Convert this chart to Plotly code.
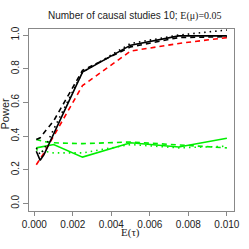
import plotly.graph_objects as go

x_vals = [0.0001, 0.0003, 0.0005, 0.001, 0.0025, 0.005, 0.0075, 0.01]

black_solid = [0.31, 0.256, 0.29, 0.41, 0.78, 0.94, 0.995, 0.995]
black_dashed = [0.38, 0.39, 0.42, 0.49, 0.79, 0.93, 0.985, 0.99]
black_dotted = [0.33, 0.29, 0.32, 0.44, 0.78, 0.95, 1.0, 1.03]
red_dashed = [0.23, 0.265, 0.30, 0.40, 0.70, 0.905, 0.95, 0.985]
green_solid = [0.33, 0.335, 0.34, 0.35, 0.275, 0.36, 0.335, 0.387]
green_dashed = [0.38, 0.375, 0.367, 0.36, 0.355, 0.365, 0.347, 0.33]
green_dotted = [0.32, 0.31, 0.31, 0.30, 0.30, 0.35, 0.33, 0.34]

x_ticks = [0.0, 0.002, 0.004, 0.006, 0.008, 0.010]
x_tick_labels = ["0.000", "0.002", "0.004", "0.006", "0.008", "0.010"]
y_ticks = [0.0, 0.2, 0.4, 0.6, 0.8, 1.0]
y_tick_labels = ["0.0", "0.2", "0.4", "0.6", "0.8", "1.0"]

DASH = "5px,4px"
DOT = "1.5px,4px"

series = [
    (green_dotted, "#00ee00", DOT),
    (green_dashed, "#00ee00", DASH),
    (green_solid, "#00ee00", "solid"),
    (red_dashed, "#ff0000", DASH),
    (black_dotted, "#000000", DOT),
    (black_dashed, "#000000", DASH),
    (black_solid, "#000000", "solid"),
]

fig = go.Figure()
for ys, col, dash in series:
    fig.add_trace(go.Scatter(x=x_vals, y=ys, mode="lines",
                             line=dict(color=col, width=1.6, dash=dash),
                             showlegend=False, hoverinfo="skip"))

SANS = "Liberation Sans, Arial, sans-serif"
SERIF = "Liberation Serif, Times New Roman, serif"

fig.update_layout(
    width=249, height=249,
    margin=dict(l=29, r=15, t=29, b=38, autoexpand=False),
    paper_bgcolor="white", plot_bgcolor="white",
    font=dict(family=SANS, size=10, color="#222"),
    hovermode=False,
    xaxis=dict(
        range=[-0.00028, 0.01037], tickvals=x_ticks, ticktext=x_tick_labels,
        showgrid=False, zeroline=False, showline=True, mirror=True,
        linecolor="#888", linewidth=1, ticks="outside", ticklen=4,
        tickcolor="#888", tickfont=dict(size=10), automargin=False,
        ticklabeloverflow="allow",
    ),
    yaxis=dict(
        range=[-0.045, 1.036], tickvals=y_ticks, ticktext=y_tick_labels,
        showgrid=False, zeroline=False, showline=True, mirror=True,
        linecolor="#888", linewidth=1, ticks="outside", ticklen=5,
        tickcolor="#888", tickfont=dict(size=10), tickangle=-90,
        automargin=False, ticklabeloverflow="allow",
    ),
    annotations=[
        dict(text='Number of causal studies 10; <span style="font-family:Liberation Serif, serif">E(μ)=0.05</span>',
             xref="paper", yref="paper", x=0.517, y=1.071, xanchor="center", yanchor="middle",
             showarrow=False, font=dict(family=SANS, size=10, color="#222")),
        dict(text="E(τ)", xref="paper", yref="paper", x=0.493, y=-0.12,
             xanchor="center", yanchor="middle", showarrow=False,
             font=dict(family=SERIF, size=11, color="#222")),
        dict(text="Power", xref="paper", yref="paper", x=-0.115, y=0.538,
             xanchor="center", yanchor="middle", textangle=-90, showarrow=False,
             font=dict(family=SANS, size=11, color="#222")),
    ],
)

fig.write_html("out.html", config={"displayModeBar": False},
               post_script="document.body.style.margin='0';document.body.style.padding='0';")
